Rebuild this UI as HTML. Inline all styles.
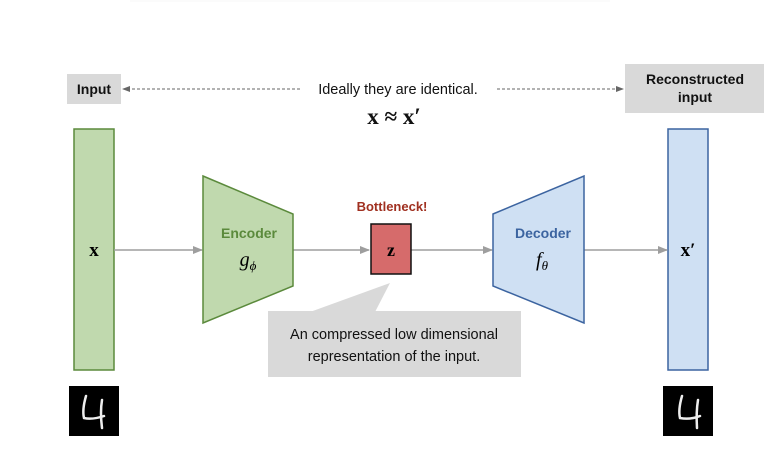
<!DOCTYPE html>
<html><head><meta charset="utf-8"><style>
html,body{margin:0;padding:0;background:#fff;}
svg{display:block;}
text{font-family:"Liberation Sans",sans-serif;}
.m{font-family:"Liberation Serif",serif;}
</style></head><body>
<svg width="771" height="458" viewBox="0 0 771 458" xmlns="http://www.w3.org/2000/svg">
<defs>
<marker id="a" markerWidth="10" markerHeight="8" refX="9" refY="4" orient="auto" markerUnits="userSpaceOnUse"><path d="M0,0 L10,4 L0,8 z" fill="#9e9e9e"/></marker>
<marker id="d" markerWidth="8" markerHeight="6" refX="7" refY="3" orient="auto-start-reverse" markerUnits="userSpaceOnUse"><path d="M0,0 L8,3 L0,6 z" fill="#666"/></marker>
</defs>
<rect x="130" y="0" width="480" height="2" fill="#fbfbfb"/>
<rect x="67" y="74" width="54" height="30" fill="#d9d9d9"/>
<text x="94" y="94" font-size="14" font-weight="bold" text-anchor="middle" fill="#111">Input</text>
<rect x="625" y="64" width="139" height="49" fill="#d9d9d9"/>
<text x="695" y="84" font-size="14" font-weight="bold" text-anchor="middle" fill="#111">Reconstructed</text>
<text x="695" y="102" font-size="14" font-weight="bold" text-anchor="middle" fill="#111">input</text>
<line x1="300" y1="89" x2="123" y2="89" stroke="#666" stroke-dasharray="3,2" marker-end="url(#d)"/>
<line x1="497" y1="89" x2="623" y2="89" stroke="#666" stroke-dasharray="3,2" marker-end="url(#d)"/>
<text x="398" y="94" font-size="14.5" text-anchor="middle" fill="#111">Ideally they are identical.</text>
<text x="394" y="124" class="m" font-size="23" font-weight="bold" text-anchor="middle" fill="#111">x ≈ x′</text>
<rect x="74" y="129" width="40" height="241" fill="#c0d9ae" stroke="#5b8a3c" stroke-width="1.5"/>
<text x="94" y="256" class="m" font-size="19" font-weight="bold" text-anchor="middle">x</text>
<rect x="668" y="129" width="40" height="241" fill="#cfe0f3" stroke="#3c64a0" stroke-width="1.5"/>
<text x="688" y="256" class="m" font-size="19" font-weight="bold" text-anchor="middle">x′</text>
<line x1="114" y1="250" x2="202" y2="250" stroke="#9e9e9e" stroke-width="1.5" marker-end="url(#a)"/>
<line x1="293" y1="250" x2="369" y2="250" stroke="#9e9e9e" stroke-width="1.5" marker-end="url(#a)"/>
<line x1="411" y1="250" x2="492" y2="250" stroke="#9e9e9e" stroke-width="1.5" marker-end="url(#a)"/>
<line x1="584" y1="250" x2="667" y2="250" stroke="#9e9e9e" stroke-width="1.5" marker-end="url(#a)"/>
<polygon points="203,176 293,214 293,286 203,323" fill="#c0d9ae" stroke="#5b8a3c" stroke-width="1.5"/>
<text x="249" y="238" font-size="14" font-weight="bold" text-anchor="middle" fill="#5b8a3c">Encoder</text>
<text x="248" y="266" class="m" font-size="20" font-style="italic" text-anchor="middle">g<tspan font-size="13" dy="4">ϕ</tspan></text>
<polygon points="493,214 584,176 584,323 493,286" fill="#cfe0f3" stroke="#3c64a0" stroke-width="1.5"/>
<text x="543" y="238" font-size="14" font-weight="bold" text-anchor="middle" fill="#3c64a0">Decoder</text>
<text x="542" y="266" class="m" font-size="20" font-style="italic" text-anchor="middle">f<tspan font-size="13" dy="4">θ</tspan></text>
<text x="392" y="211" font-size="13" font-weight="bold" text-anchor="middle" fill="#a03020">Bottleneck!</text>
<rect x="371" y="224" width="40" height="50" fill="#d66b6b" stroke="#111" stroke-width="1.5"/>
<text x="391" y="256" class="m" font-size="18" font-weight="bold" text-anchor="middle">z</text>
<polygon points="390,283 310,312 375,312" fill="#d9d9d9"/>
<rect x="268" y="311" width="253" height="66" fill="#d9d9d9"/>
<text x="394" y="339" font-size="14.5" text-anchor="middle" fill="#111">An compressed low dimensional</text>
<text x="394" y="361" font-size="14.5" text-anchor="middle" fill="#111">representation of the input.</text>
<rect x="69" y="386" width="50" height="50" fill="#000"/>
<path d="M86,396 Q82,410 84,418 Q92,420 104,416 M102,400 Q100,412 102,428" stroke="#eee" stroke-width="2.5" fill="none" stroke-linecap="round"/>
<rect x="663" y="386" width="50" height="50" fill="#000"/>
<path d="M682,396 Q678,410 680,418 Q690,420 700,416 M698,400 Q696,412 697,428" stroke="#eee" stroke-width="2.5" fill="none" stroke-linecap="round"/>
</svg>
</body></html>
